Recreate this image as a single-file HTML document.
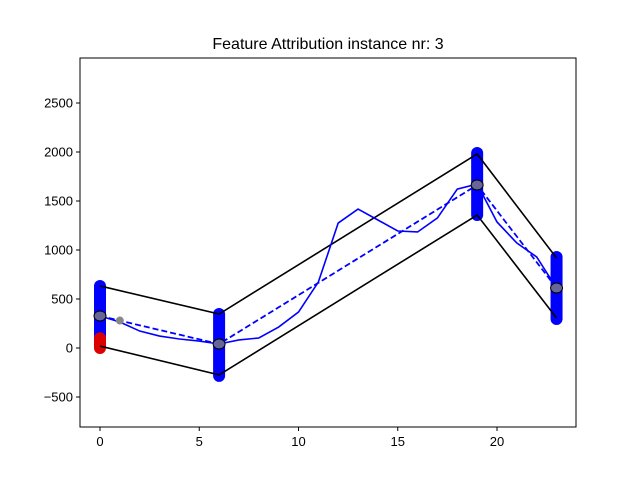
<!DOCTYPE html>
<html><head><meta charset="utf-8"><style>
body{margin:0;background:#fff}
svg text{font-family:"Liberation Sans","DejaVu Sans",sans-serif;font-size:13px;fill:#000}
</style></head><body>
<svg id="chart" width="640" height="480" xmlns="http://www.w3.org/2000/svg">
<rect width="640" height="480" fill="#fff"/>
<text x="328" y="49" text-anchor="middle" style="font-size:16px">Feature Attribution instance nr: 3</text>
<g id="plot"></g>
<rect x="80" y="58" width="496" height="369" fill="none" stroke="#000" stroke-width="1"/>
<g id="axes"></g>
</svg>
<script>
const xTicks=[0,5,10,15,20];
const yTicks=[-500,0,500,1000,1500,2000,2500];
const seriesX=[0,1,2,3,4,5,6,7,8,9,10,11,12,13,14,15,16,17,18,19,20,21,22,23];
const seriesY=[327,265,173,122,92,71,41,82,102,214,367,673,1275,1418,1306,1194,1184,1327,1622,1673,1286,1071,929,612];
const keyX=[0,6,19,23];
const keyY=[327,41,1663,612];
const upperY=[633,347,1980,918];
const lowerY=[20,-275,1357,306];
const barLow=[20,-285,1357,296];
const barHigh=[633,347,1990,929];
const redLow=[0];
const redHigh=[100];
const extraX=[1];
const extraY=[280];
const sx=v=>100+19.85*v;
const sy=v=>348-0.098*v;
const NS="http://www.w3.org/2000/svg";
const plot=document.getElementById('plot'),axes=document.getElementById('axes');
function mk(tag,attrs,parent){const e=document.createElementNS(NS,tag);for(const k in attrs)e.setAttribute(k,attrs[k]);parent.appendChild(e);return e;}
// bars of points
keyX.forEach((x,i)=>{
  const l=mk('line',{x1:sx(x),x2:sx(x),y1:sy(barLow[i]),y2:sy(barHigh[i]),stroke:'#0000ff','stroke-width':12,'stroke-linecap':'round'},plot);
  
  
});
redLow.forEach((v,i)=>{
  const l=mk('line',{x1:sx(0),x2:sx(0),y1:sy(v),y2:sy(redHigh[i]),stroke:'#dd0000','stroke-width':12,'stroke-linecap':'round'},plot);
  
  
});
function pts(xs,ys){return xs.map((x,i)=>sx(x)+','+sy(ys[i])).join(' ');}
let p=mk('polyline',{points:pts(keyX,upperY),fill:'none',stroke:'#000','stroke-width':1.6},plot);


p=mk('polyline',{points:pts(keyX,lowerY),fill:'none',stroke:'#000','stroke-width':1.6},plot);


p=mk('polyline',{points:pts(seriesX,seriesY),fill:'none',stroke:'#0000ff','stroke-width':1.6},plot);


p=mk('polyline',{points:pts(keyX,keyY),fill:'none',stroke:'#0000ff','stroke-width':1.8,'stroke-dasharray':'6,3'},plot);


extraX.forEach((x,i)=>{
  const c=mk('circle',{cx:sx(x),cy:sy(extraY[i]),r:4,fill:'#888'},plot);
  
  
});
keyX.forEach((x,i)=>{
  const c=mk('ellipse',{cx:sx(x),cy:sy(keyY[i]),rx:6,ry:5,fill:'#808080','fill-opacity':0.8,stroke:'#000','stroke-width':1},plot);
  
  
});
xTicks.forEach(t=>{
  const l=mk('line',{x1:sx(t),x2:sx(t),y1:427,y2:431,stroke:'#000'},axes);
  
  
  const tx=mk('text',{x:sx(t),y:446,'text-anchor':'middle'},axes);tx.textContent=t;
  
  
});
yTicks.forEach(t=>{
  const l=mk('line',{x1:76,x2:80,y1:sy(t),y2:sy(t),stroke:'#000'},axes);
  
  
  const tx=mk('text',{x:73,y:sy(t)+4.5,'text-anchor':'end'},axes);tx.textContent=t<0?'\u2212'+(-t):t;
  
  
});
</script>
</body></html>
